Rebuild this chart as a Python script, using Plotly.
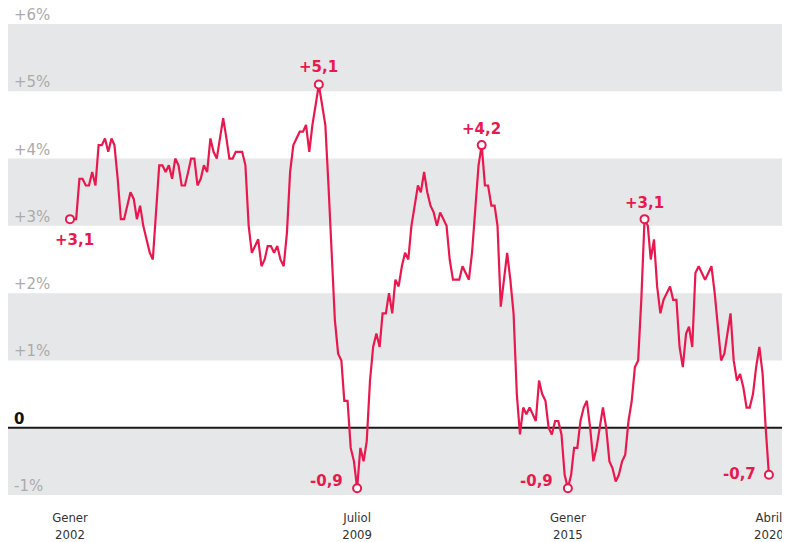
import pandas as pd
import plotly.graph_objects as go

# ---- data -------------------------------------------------------------
ipc = [
    3.1, 3.1, 3.1, 3.7, 3.7, 3.6, 3.6, 3.8, 3.6, 4.2, 4.2, 4.3,   # 2002
    4.1, 4.3, 4.2, 3.7, 3.1, 3.1, 3.3, 3.5, 3.4, 3.1, 3.3, 3.0,   # 2003
    2.8, 2.6, 2.5, 3.2, 3.9, 3.9, 3.8, 3.9, 3.7, 4.0, 3.9, 3.6,   # 2004
    3.6, 3.8, 4.0, 4.0, 3.6, 3.7, 3.9, 3.8, 4.3, 4.1, 4.0, 4.3,   # 2005
    4.6, 4.3, 4.0, 4.0, 4.1, 4.1, 4.1, 3.9, 3.0, 2.6, 2.7, 2.8,   # 2006
    2.4, 2.5, 2.7, 2.7, 2.6, 2.7, 2.5, 2.4, 2.9, 3.8, 4.2, 4.3,   # 2007
    4.4, 4.4, 4.5, 4.1, 4.5, 4.8, 5.1, 4.8, 4.5, 3.6, 2.5, 1.6,   # 2008
    1.1, 1.0, 0.4, 0.4, -0.3, -0.5, -0.9, -0.3, -0.5, -0.2, 0.7, 1.2,  # 2009
    1.4, 1.2, 1.7, 1.7, 2.0, 1.7, 2.2, 2.1, 2.4, 2.6, 2.5, 3.0,   # 2010
    3.3, 3.6, 3.5, 3.8, 3.5, 3.3, 3.2, 3.0, 3.2, 3.1, 3.0, 2.5,   # 2011
    2.2, 2.2, 2.2, 2.4, 2.3, 2.2, 2.6, 3.2, 3.9, 4.2, 3.6, 3.6,   # 2012
    3.3, 3.3, 3.0, 1.8, 2.2, 2.6, 2.2, 1.7, 0.5, -0.1, 0.3, 0.2,  # 2013
    0.3, 0.2, 0.1, 0.7, 0.5, 0.4, 0.0, -0.1, 0.1, 0.1, -0.1, -0.7,  # 2014
    -0.9, -0.7, -0.3, -0.3, 0.1, 0.3, 0.4, 0.0, -0.5, -0.3, 0.0, 0.3,  # 2015
    0.0, -0.5, -0.6, -0.8, -0.7, -0.5, -0.4, 0.1, 0.4, 0.9, 1.0, 1.9,  # 2016
    3.1, 3.0, 2.5, 2.8, 2.1, 1.7, 1.9, 2.0, 2.1, 1.9, 1.9, 1.2,   # 2017
    0.9, 1.4, 1.5, 1.2, 2.3, 2.4, 2.3, 2.2, 2.3, 2.4, 2.0, 1.5,   # 2018
    1.0, 1.1, 1.4, 1.7, 1.0, 0.7, 0.8, 0.6, 0.3, 0.3, 0.5, 0.9,   # 2019
    1.2, 0.8, 0.0, -0.7,                                          # 2020
]
months = pd.date_range("2002-01-01", periods=len(ipc), freq="MS")

highlight_idx = [0, 78, 90, 129, 156, 180, 219]

tick_dates = ["2002-01-01", "2009-07-01", "2015-01-01", "2020-04-01"]
tick_labels = ["Gener<br>2002", "Juliol<br>2009", "Gener<br>2015", "Abril<br>2020"]

y_ticks = [6, 5, 4, 3, 2, 1, 0, -1]
y_tick_labels = ["+6%", "+5%", "+4%", "+3%", "+2%", "+1%", "0", "-1%"]

source_text = "Font: INE / Gràfic: ARA"

# ---- style ------------------------------------------------------------
RED = "#e9184e"
BAND = "#e6e7e9"
FONT = "DejaVu Sans"
NARROW = ("Liberation Sans Narrow, Noto Sans ExtraCondensed, Noto Sans Condensed, "
          "DejaVu Sans Condensed, sans-serif")

# label offsets (px) for highlighted points: (xshift, yshift)
label_offsets = {0: (5, -21), 78: (0, 18), 90: (-31, 7), 129: (0, 16),
                 156: (-31, 7), 180: (0, 16), 219: (-29, 1)}

fig = go.Figure()

fig.add_trace(go.Scatter(
    x=months, y=ipc, mode="lines",
    line=dict(color=RED, width=2.2), hoverinfo="skip", showlegend=False,
))
fig.add_trace(go.Scatter(
    x=[months[i] for i in highlight_idx], y=[ipc[i] for i in highlight_idx],
    mode="markers",
    marker=dict(symbol="circle", size=8, color="white",
                line=dict(color=RED, width=2)),
    hoverinfo="skip", showlegend=False,
))

shapes = []
for lo in [5, 3, 1, -1]:
    shapes.append(dict(type="rect", xref="paper", yref="y", x0=0, x1=1,
                       y0=lo, y1=lo + 1, fillcolor=BAND, line=dict(width=0),
                       layer="below"))
shapes.append(dict(type="line", xref="paper", yref="y", x0=0, x1=1, y0=0, y1=0,
                   line=dict(color="#1a1a1a", width=2), layer="below"))

annotations = []
for v, t in zip(y_ticks, y_tick_labels):
    bold = (v == 0)
    annotations.append(dict(
        x=0, xref="paper", y=v, yref="y", text=("<b>%s</b>" % t) if bold else t,
        showarrow=False, xanchor="left", yanchor="middle", xshift=4, yshift=9,
        font=dict(family=FONT, size=15,
                  color="#111111" if bold else "#ababab"),
    ))


def fmt(v):
    return ("%+.1f" % v).replace(".", ",")


for i in highlight_idx:
    dx, dy = label_offsets[i]
    annotations.append(dict(
        x=months[i], xref="x", y=ipc[i], yref="y", text="<b>%s</b>" % fmt(ipc[i]),
        showarrow=False, xanchor="center", yanchor="middle", xshift=dx, yshift=dy,
        font=dict(family=FONT, size=15, color=RED),
    ))

annotations.append(dict(
    x=1, xref="paper", y=1.0, yref="y", text=source_text,
    showarrow=False, textangle=-90, xanchor="center", yanchor="middle",
    font=dict(family=FONT, size=10, color="#444444"),
))

# The page body keeps its default 8px margin, so the figure is sized to end
# exactly at the window's right and bottom edges.
fig.update_layout(
    width=782, height=534,
    margin=dict(l=0, r=0, t=16, b=45),
    paper_bgcolor="white", plot_bgcolor="white",
    shapes=shapes, annotations=annotations,
    xaxis=dict(type="date", range=["2000-05-20", "2020-10-19"],
               showgrid=False, zeroline=False, showline=False,
               tickvals=tick_dates, ticktext=tick_labels, ticks="",
               ticklabelstandoff=13,
               tickfont=dict(family=NARROW, size=13, color="#333333")),
    yaxis=dict(range=[-1, 6], showgrid=False, zeroline=False,
               showticklabels=False, showline=False),
)

fig.write_html("out.html", config={"displayModeBar": False})
